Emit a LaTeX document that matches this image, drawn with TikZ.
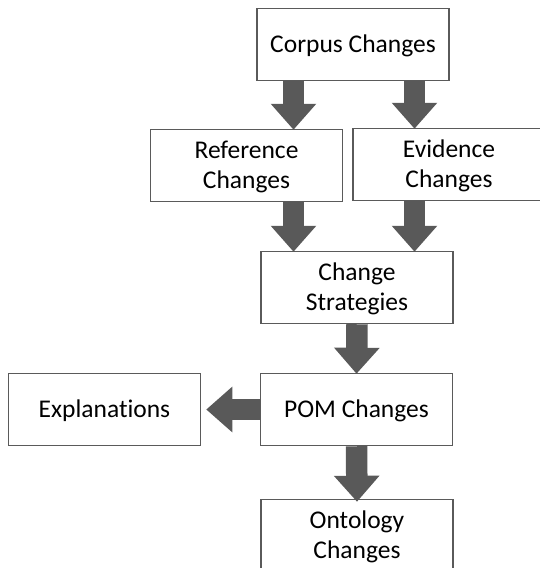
\documentclass[tikz,border=0pt]{standalone}
\usepackage{fontspec}
\setmainfont{Carlito}[Ligatures={NoCommon,NoContextual}]
\usetikzlibrary{arrows.meta}
\definecolor{boxline}{HTML}{5A5A5A}
\definecolor{arrowfill}{HTML}{595959}
\tikzset{
  box/.style={draw=boxline, line width=1.5pt, fill=white, minimum width=192pt, minimum height=72pt,
    inner sep=0pt, align=center, font=\fontsize{25.5}{30}\selectfont},
  oneline/.style={box, text height=16pt, text depth=0pt},
  twoline/.style={box, text height=45pt, text depth=0pt},
  blockarrow/.style={draw=arrowfill, line width=21.5pt, -{Triangle[length=26pt,width=44pt]}},
}
\begin{document}
\begin{tikzpicture}[x=1pt,y=-1pt]
\useasboundingbox (0,0) rectangle (540,568);
\begin{scope}
\clip (0,0) rectangle (540,568);
\node[oneline] (corpus) at (353,44.5) {Corpus Changes};
\node[twoline] (ref) at (246.5,165.5) {Reference\\Changes};
\node[twoline] (evid) at (449,164.5) {Evidence\\Changes};
\node[twoline] (strat) at (357,287.5) {Change\\Strategies};
\node[oneline] (expl) at (104.5,409.5) {Explanations};
\node[oneline] (pom) at (356.5,409.5) {POM Changes};
\node[twoline] (onto) at (357,535.5) {Ontology\\Changes};
\coordinate (xl) at (293.5,0);
\coordinate (xr) at (414.5,0);
\draw[blockarrow] (corpus.south -| xl) -- ([yshift=-1pt]ref.north -| xl);
\draw[blockarrow] (corpus.south -| xr) -- ([yshift=-1pt]evid.north -| xr);
\draw[blockarrow] (ref.south -| xl) -- ([yshift=-1pt]strat.north -| xl);
\draw[blockarrow] (evid.south -| xr) -- ([yshift=-1pt]strat.north -| xr);
\draw[blockarrow] (strat.south) -- ([yshift=-1pt]pom.north);
\draw[blockarrow] (pom.south) -- ([yshift=-3pt]onto.north);
\draw[blockarrow] (pom.west) -- ([xshift=5pt]expl.east);
\end{scope}
\end{tikzpicture}
\end{document}
